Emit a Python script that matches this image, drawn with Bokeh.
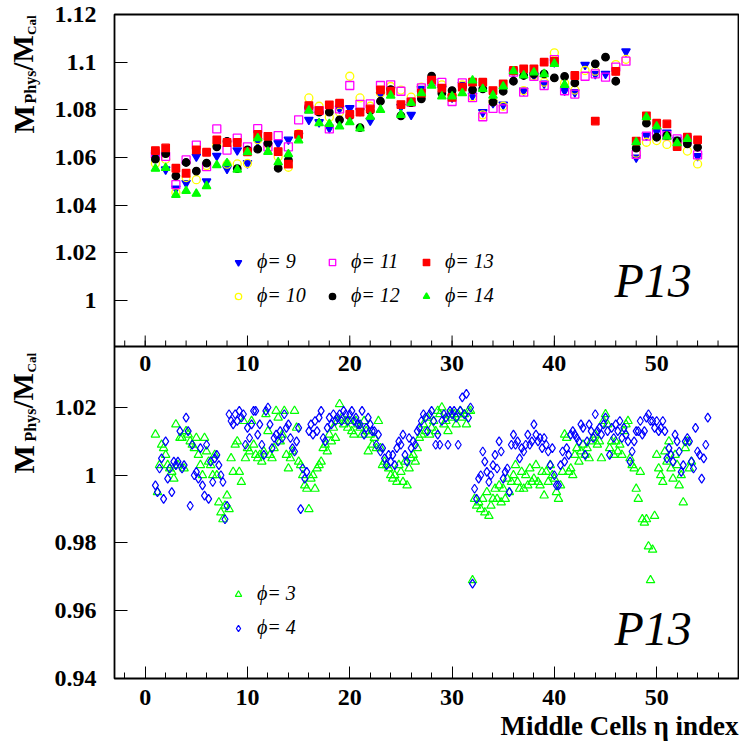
import math
import numpy as np
from bokeh.plotting import figure
from bokeh.layouts import row
from bokeh.models import Range1d, FixedTicker, Label, Legend, LegendItem, Span, Title
from bokeh.core.properties import value
from bokeh.embed import file_html
from bokeh.resources import INLINE

nan = float("nan")

# ---------------- top panel data (one value per eta index) ----------------
eta_top = list(range(1, 55))
phi9 = [1.061, 1.055, 1.047, 1.0493, 1.0604, 1.050, 1.0607, 1.0553, 1.063, 1.0576,
        1.067, 1.0651, 1.066, 1.0675, 1.0693, 1.0758, 1.0748, 1.0724, 1.0805, 1.0807,
        1.0795, 1.0755, 1.0865, 1.0885, 1.0813, 1.0779, 1.0888, 1.0918, 1.0888, 1.0852,
        1.0905, 1.086, 1.079, 1.0829, 1.0822, 1.0958, 1.0881, 1.0945, 1.091, 1.100,
        1.0881, 1.0874, 1.0989, 1.095, 1.0951, nan, 1.1045, 1.060, 1.0692, 1.071,
        1.0704, 1.0674, 1.0668, 1.0606]
phi10 = [1.0575, 1.0593, 1.0453, 1.0516, 1.0507, 1.0566, 1.0652, 1.0572, 1.0573, 1.0575,
         1.0675, 1.0655, 1.0603, 1.0559, 1.0700, 1.085, 1.0815, 1.0769, 1.0790, 1.0941,
         1.085, 1.0815, 1.087, 1.0898, 1.0883, 1.0853, 1.0895, 1.0927, 1.0905, 1.0860,
         1.0905, 1.0855, 1.0779, 1.0835, 1.0815, 1.0962, 1.0881, 1.0942, 1.0916, 1.1039,
         1.0912, 1.0883, 1.0965, 1.0962, nan, 1.099, 1.1012, 1.0618, 1.0664, 1.0671,
         1.0655, 1.0668, 1.0627, 1.0573]
phi11 = [1.0615, 1.0605, 1.0486, 1.059, 1.0652, 1.0562, 1.0720, 1.0631, 1.0681, 1.0645,
         1.0721, 1.0645, 1.0692, 1.0645, 1.0758, 1.0804, 1.0797, 1.072, 1.0804, 1.0902,
         1.0823, 1.0825, 1.0902, 1.0905, 1.0878, 1.0832, 1.0892, 1.0918, 1.0915, 1.0835,
         1.0913, 1.0851, 1.0771, 1.0806, 1.0804, 1.0958, 1.0874, 1.094, 1.0902, 1.1011,
         1.088, 1.0866, 1.0941, 1.0951, 1.0937, 1.0979, 1.1004, 1.0613, 1.069, 1.0706,
         1.0692, 1.0678, 1.0675, 1.0611]
phi12 = [1.0593, 1.0616, 1.0523, 1.0579, 1.0543, 1.0576, 1.0645, 1.0668, 1.0553, 1.0632,
         1.0635, 1.066, 1.0555, 1.0589, 1.0695, 1.081, 1.079, 1.079, 1.0758, 1.0775,
         1.0725, 1.0797, 1.0836, 1.0885, 1.0775, 1.0830, 1.0846, 1.0941, 1.087, 1.0881,
         1.0895, 1.0884, 1.0888, 1.0832, 1.0878, 1.092, 1.0944, 1.095, 1.0951, 1.0934,
         1.094, 1.0913, nan, 1.0993, 1.1021, 1.092, nan, 1.0639, 1.0744, 1.0685,
         1.0692, 1.0670, 1.0657, 1.0643]
phi13 = [1.0629, 1.064, 1.0555, 1.0534, 1.0632, 1.0622, 1.0674, 1.0663, 1.0663, 1.0624,
         1.0697, 1.0689, 1.0625, 1.0572, 1.0697, 1.0818, 1.0797, 1.0821, 1.0828, 1.0781,
         1.079, 1.0804, 1.0884, 1.0878, 1.0822, 1.0833, 1.087, 1.0925, 1.0891, 1.0852,
         1.0895, 1.0916, 1.0916, 1.0881, 1.0909, 1.0965, 1.0972, 1.0972, 1.100, 1.1003,
         nan, 1.0944, nan, 1.0753, nan, 1.0961, nan, 1.0669, 1.0775, 1.0744,
         1.0741, 1.0646, 1.0685, 1.0674]
phi14 = [1.0553, 1.0556, 1.0443, 1.046, 1.0448, 1.048, 1.0568, 1.0576, 1.0549, 1.0622,
         1.0681, 1.0624, 1.058, 1.0614, 1.0672, 1.0797, 1.0744, 1.0741, 1.0730, 1.0748,
         1.0722, 1.0771, 1.080, 1.086, 1.0779, 1.0829, 1.087, 1.0902, 1.0856, 1.0856,
         1.0870, 1.0923, 1.0888, 1.086, 1.0898, 1.0962, 1.0944, 1.0957, 1.095, 1.0993,
         1.0905, nan, nan, nan, nan, nan, nan, 1.0664, 1.0769, 1.073,
         1.0688, 1.066, 1.0678, nan]

# ---------------- bottom panel data (several cells per eta index) ----------------
sub_offsets = [0.0, 0.2, 0.4, 0.6, 0.8]
phi3_cells = list(range(1, 54))
phi3_vals = [
    [1.012, 0.995, 1.003, 1.009, 1.008], [1.006, 1.003, 1.002, 1.001, 0.999],
    [1.015, 1.003, 1.011, 1.011, 1.002], [1.013, 1.012, 1.010, 1.009, 1.008],
    [1.011, 1.006, 1.003, 1.000, 1.011], [1.007, 1.004, 1.003, 1.000, 1.006],
    [1.000, 0.992, 0.989, 0.987, 0.991], [0.994, 0.990, 1.005, 1.001, 1.009],
    [1.010, 1.001, 0.998, 1.016, 1.005], [1.008, 1.007, 1.016, 1.009, 1.006],
    [1.005, 1.006, 1.004, 1.007, 1.018], [1.013, 1.006, 1.005, 1.008, 1.019],
    [1.017, 1.010, 1.012, 1.019, 1.006], [1.002, 1.005, 1.007, 1.019, 1.014],
    [1.004, 1.003, 1.000, 0.997, 0.996], [0.990, 0.999, 1.000, 0.996, 1.002],
    [1.003, 1.004, 1.008, 1.009, 1.007], [1.012, 1.010, 1.014, 1.011, 1.016],
    [1.021, 1.017, 1.015, 1.016, 1.014], [1.016, 1.013, 1.012, 1.016, 1.015],
    [1.014, 1.012, 1.016, 1.013, 1.007], [1.012, 1.009, 1.011, 1.008, 1.016],
    [1.008, 1.003, 1.004, 1.003, 1.002], [1.000, 0.999, 1.000, 0.998, 1.003],
    [1.001, 0.998, 1.004, 0.997, 1.002], [1.005, 1.006, 1.004, 1.008, 1.011],
    [1.012, 1.015, 1.013, 1.017, 1.012], [1.014, 1.016, 1.013, 1.019, 1.018],
    [1.020, 1.015, 1.016, 1.013, 1.018], [1.017, 1.018, 1.015, 1.018, 1.019],
    [1.017, 1.018, 1.015, 1.019, 1.019], [0.969, 0.993, 0.991, 0.992, 0.990],
    [0.993, 0.989, 0.995, 0.988, 0.991], [0.993, 0.996, 0.993, 0.997, 0.992],
    [0.996, 0.993, 0.999, 0.995, 0.998], [1.000, 1.003, 0.998, 0.996, 1.001],
    [0.996, 1.000, 0.997, 1.002, 0.998], [0.999, 1.003, 0.998, 0.997, 1.001],
    [0.994, 1.001, 0.998, 1.003, 1.000], [0.999, 0.995, 0.993, 0.997, 1.001],
    [1.012, 1.011, 1.001, 1.002, 1.000], [1.006, 1.008, 1.004, 1.007, 1.009],
    [1.006, 1.008, 1.005, 1.010, 1.011], [1.012, 1.009, 1.010, 1.005, 1.016],
    [1.018, 1.015, 1.008, 1.010, 1.006], [1.010, 1.007, 1.009, 1.006, 1.013],
    [1.015, 1.016, 1.005, 1.003, 1.002], [0.996, 0.993, 1.001, 0.987, 0.986],
    [0.987, 0.979, 0.969, 0.978, 0.988], [1.006, 1.002, 1.000, 0.998, 1.007],
    [1.004, 1.010, 1.002, 0.999, 1.006], [1.003, 0.997, 1.000, 0.992, 1.008],
    [1.010, 1.002, 1.004],
]
phi4_cells = list(range(1, 56))
phi4_vals = [
    [0.997, 0.995, 1.002, 1.005, 0.993], [1.010, 0.999, 1.002, 0.995, 1.004],
    [1.003, 1.004, 1.013, 1.002, 1.003], [1.017, 1.013, 0.991, 1.009, 1.000],
    [1.001, 0.999, 1.008, 0.997, 0.994], [1.009, 0.993, 1.004, 0.998, 1.005],
    [1.006, 1.003, 1.000, 0.998, 0.987], [0.991, 1.018, 1.016, 1.015, 1.018],
    [1.016, 1.019, 1.017, 1.018, 1.009], [1.014, 1.011, 1.015, 1.019, 1.019],
    [1.012, 1.015, 1.009, 1.006, 1.019], [1.020, 1.015, 1.008, 1.011, 1.012],
    [1.010, 1.013, 1.011, 1.018, 1.014], [1.015, 1.011, 1.008, 1.007, 1.010],
    [1.014, 0.990, 1.002, 0.999, 1.001], [1.013, 1.015, 1.012, 1.016, 1.013],
    [1.017, 1.019, 1.011, 1.010, 1.014], [1.017, 1.015, 1.018, 1.016, 1.017],
    [1.018, 1.016, 1.019, 1.018, 1.016], [1.018, 1.019, 1.016, 1.017, 1.015],
    [1.015, 1.019, 1.012, 1.014, 1.017], [1.015, 1.013, 1.013, 1.009, 1.012],
    [1.007, 1.008, 1.005, 1.003, 1.006], [1.004, 1.006, 1.003, 1.008, 1.010],
    [1.009, 1.012, 1.006, 1.004, 1.011], [1.008, 1.010, 1.009, 1.013, 1.014],
    [1.016, 1.018, 1.017, 1.013, 1.018], [1.019, 1.016, 1.009, 1.012, 1.009],
    [1.016, 1.018, 1.017, 1.009, 1.019], [1.018, 1.019, 1.017, 1.009, 1.019],
    [1.023, 1.018, 1.024, 1.017, 1.020], [0.968, 0.996, 0.993, 0.999, 1.000],
    [1.007, 1.004, 1.001, 0.998, 1.000], [1.003, 1.006, 1.002, 1.010, 1.007],
    [0.999, 1.001, 1.002, 0.995, 1.009], [1.012, 1.009, 1.010, 1.005, 1.008],
    [1.007, 1.009, 1.012, 1.009, 1.010], [1.015, 1.012, 1.010, 1.011, 1.008],
    [1.011, 1.009, 1.007, 1.003, 1.008], [1.000, 0.997, 0.997, 1.003, 1.007],
    [1.004, 1.008, 1.006, 1.012, 1.013], [1.012, 1.011, 1.010, 1.015, 1.014],
    [1.006, 1.010, 1.015, 1.013, 1.011], [1.018, 1.013, 1.014, 1.012, 1.015],
    [1.017, 1.013, 1.006, 1.014, 1.011], [1.015, 1.013, 1.016, 1.011, 1.014],
    [1.012, 1.010, 1.004, 1.007, 1.010], [1.013, 1.013, 1.016, 1.012, 1.013],
    [1.017, 1.018, 1.016, 1.016, 1.014], [1.016, 1.013, 1.014, 1.016, 1.013],
    [1.005, 1.008, 1.006, 1.004, 1.012], [1.010, 1.007, 1.001, 1.003, 1.010],
    [1.011, 1.010, 1.004, 1.002, 1.014], [1.007, 1.006, 0.999, 1.005, 1.009],
    [1.017],
]

# ---------------- axes / ticks ----------------
x_major = [0, 10, 20, 30, 40, 50]
x_major_labels = ["0", "10", "20", "30", "40", "50"]
x_minor = list(range(-2, 58, 2))
top_yticks = [1.0, 1.02, 1.04, 1.06, 1.08, 1.10, 1.12]
top_ylabels = ["1", "1.02", "1.04", "1.06", "1.08", "1.1", "1.12"]
bot_yticks = [0.94, 0.96, 0.98, 1.0, 1.02]
bot_ylabels = ["0.94", "0.96", "0.98", "1", "1.02"]

X_LO, X_HI = -3.0, 58.0
TOP_LO, TOP_HI = 0.9807, 1.12
BOT_LO, BOT_HI = 0.94, 1.038

TITLE_W = 44
TOTAL_W, TOTAL_H = 739, 750
FRAME_H = 664
PANEL_H = FRAME_H / 2

SERIF = "Liberation Serif"

main_lo, main_hi = BOT_LO, BOT_HI + (BOT_HI - BOT_LO)
top_lo_ext = TOP_LO - (TOP_HI - TOP_LO)

p = figure(width=TOTAL_W - TITLE_W, height=TOTAL_H, output_backend="svg",
           toolbar_location=None,
           x_range=Range1d(X_LO, X_HI), y_range=Range1d(main_lo, main_hi),
           min_border_left=114 - TITLE_W, min_border_right=1, min_border_top=14,
           min_border_bottom=72)
p.extra_y_ranges = {"top": Range1d(top_lo_ext, TOP_HI)}
p.xgrid.grid_line_color = None
p.ygrid.grid_line_color = None
p.outline_line_color = "black"
p.outline_line_width = 1.8
p.background_fill_color = "white"
p.border_fill_color = "white"


def to_main(t):
    frac = (t - top_lo_ext) / (TOP_HI - top_lo_ext)
    return main_lo + frac * (main_hi - main_lo)


top_pos = [to_main(t) for t in top_yticks]
ytick_pos = list(bot_yticks) + top_pos
overrides = {}
for t, lab in zip(bot_yticks, bot_ylabels):
    overrides[t] = lab
for t, lab in zip(top_pos, top_ylabels):
    overrides[t] = lab

yax = p.yaxis[0]
yax.ticker = FixedTicker(ticks=ytick_pos, minor_ticks=[])
yax.major_label_overrides = overrides
yax.major_tick_in = 13
yax.major_tick_out = 0
yax.minor_tick_line_color = None
yax.axis_line_color = None
yax.major_label_text_font = SERIF
yax.major_label_text_font_style = "bold"
yax.major_label_text_font_size = "24px"
yax.major_label_text_color = "black"
yax.major_label_standoff = 18
yax.major_tick_line_color = "black"

xax = p.xaxis[0]
xax.ticker = FixedTicker(ticks=x_major, minor_ticks=x_minor)
xax.major_label_overrides = {t: l for t, l in zip(x_major, x_major_labels)}
xax.major_tick_in = 12
xax.major_tick_out = 0
xax.minor_tick_in = 6
xax.minor_tick_out = 0
xax.axis_line_color = None
xax.major_label_text_font = SERIF
xax.major_label_text_font_style = "bold"
xax.major_label_text_font_size = "24px"
xax.major_label_text_color = "black"
xax.major_label_standoff = 11

p.add_layout(Title(text="Middle Cells η index", align="right", text_font=SERIF,
                   text_font_style="bold", text_font_size="27px",
                   text_color="black", standoff=2), "below")

# ---- middle boundary (bottom axis of upper pad) ----
p.add_layout(Span(location=TOP_LO, dimension="width", y_range_name="top",
                  line_color="black", line_width=1.8))
per_px = (TOP_HI - TOP_LO) / PANEL_H
p.segment(x0=x_major, x1=x_major, y0=[TOP_LO] * len(x_major),
          y1=[TOP_LO + 11 * per_px] * len(x_major), y_range_name="top",
          line_color="black", line_width=1)
p.segment(x0=x_minor, x1=x_minor, y0=[TOP_LO] * len(x_minor),
          y1=[TOP_LO + 6 * per_px] * len(x_minor), y_range_name="top",
          line_color="black", line_width=1)
p.text(x=x_major, y=[TOP_LO] * len(x_major), text=x_major_labels, y_range_name="top",
       text_font=value(SERIF), text_font_style="bold", text_font_size="24px",
       text_align="center", text_baseline="top", y_offset=9, text_color="black")

# ---- upper panel markers ----
styles = [
    (phi9, "ϕ= 9", "inverted_triangle", "#0000ff", "#0000ff", 8.5),
    (phi10, "ϕ= 10", "circle", None, "#ffff00", 8),
    (phi11, "ϕ= 11", "square", None, "#ff00ff", 8),
    (phi12, "ϕ= 12", "circle", "black", "black", 7.5),
    (phi13, "ϕ= 13", "square", "#ff0000", "#ff0000", 7.5),
    (phi14, "ϕ= 14", "triangle", "#00ff00", "#00ff00", 8.5),
]
top_items = []
for vals, lab, mk, fc, lc, sz in styles:
    r = p.scatter(x=eta_top, y=np.array(vals, dtype=float), marker=mk, size=sz,
                  fill_color=fc, line_color=lc, line_width=1.3, y_range_name="top")
    top_items.append(LegendItem(label=lab, renderers=[r]))


def flatten(cells, vals):
    xs, ys = [], []
    for c, row_vals in zip(cells, vals):
        for off, v in zip(sub_offsets, row_vals):
            xs.append(c + off)
            ys.append(v)
    return xs, ys


x3, y3 = flatten(phi3_cells, phi3_vals)
x4, y4 = flatten(phi4_cells, phi4_vals)
r3 = p.scatter(x=x3, y=y3, marker="triangle", size=8.5, fill_color=None,
               line_color="#00ff00", line_width=1.2)
r4 = p.scatter(x=x4, y=y4, marker="diamond", size=9, fill_color=None,
               line_color="#0000ff", line_width=1.2)

leg_common = dict(orientation="vertical", nrows=2, border_line_color=None,
                  background_fill_alpha=0, label_text_font=SERIF,
                  label_text_font_style="italic", label_text_font_size="20px",
                  label_text_color="black",
                  glyph_width=20, glyph_height=16, label_height=16, label_width=54,
                  label_standoff=9, spacing=11, padding=0, margin=0)
leg_top = Legend(items=top_items, location=(114, 371), **leg_common)
leg_bot = Legend(items=[LegendItem(label="ϕ= 3", renderers=[r3]),
                        LegendItem(label="ϕ= 4", renderers=[r4])],
                 location=(114, 39), **leg_common)
p.add_layout(leg_top)
p.add_layout(leg_bot)


def add_label(fig, x, y, text, size, style="bold", angle=0.0, align="left"):
    fig.add_layout(Label(x=x, y=y, x_units="screen", y_units="screen", text=text,
                         angle=angle, text_font=SERIF, text_font_style=style,
                         text_font_size=size, text_align=align,
                         text_baseline="middle", text_color="black"))


add_label(p, 500, 398, "P13", "48px", style="italic")
add_label(p, 500, 50, "P13", "48px", style="italic")

# ---- y titles in a narrow side strip (its frame is aligned with the main frame) ----
tf = figure(width=TITLE_W, height=TOTAL_H, output_backend="svg", toolbar_location=None,
            x_axis_type=None, y_axis_type=None, x_range=Range1d(0, 1),
            y_range=Range1d(0, 1), min_border=0, outline_line_color=None)
tf.background_fill_color = "white"
tf.border_fill_color = "white"
for (m_y, s_y, sl_y, c_y) in [(545, 575, 608, 643.5), (205, 237, 270, 306)]:
    add_label(tf, 22.5, m_y, "M", "30px", angle=math.pi / 2)
    add_label(tf, 30, s_y, "Phys", "16px", angle=math.pi / 2)
    add_label(tf, 22.5, sl_y, "/M", "29px", angle=math.pi / 2)
    add_label(tf, 31, c_y, "Cal", "13px", angle=math.pi / 2)

layout = row(tf, p)
open("out.html", "w").write(file_html(layout, INLINE))
